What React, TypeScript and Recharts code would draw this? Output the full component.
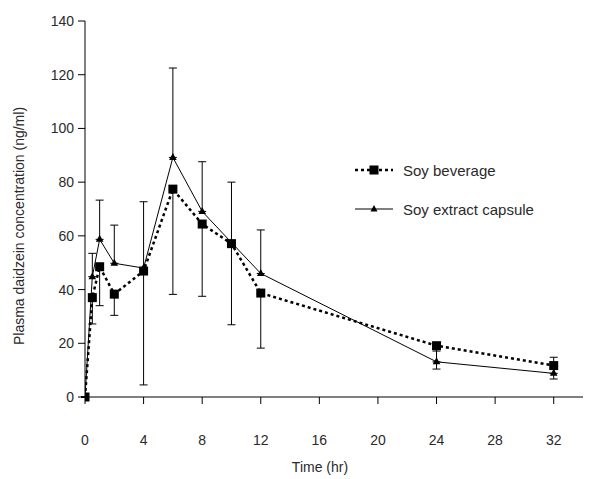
import { ComposedChart, Line, XAxis, YAxis, ErrorBar, Legend, Label } from 'recharts';

// sampling times (hr)
const times = [0, 0.5, 1, 2, 4, 6, 8, 10, 12, 24, 32];

// Soy beverage mean and lower SD
const beverage = [0, 37, 48.5, 38.3, 46.9, 77.4, 64.4, 57.1, 38.7, 19.1, 11.7];
const beverageLow = [0, 9.8, 14.5, 7.9, 42.4, 39.2, 26.9, 30.2, 20.5, 8.7, 5];

// Soy extract capsule mean and upper SD
const capsule = [0, 44.8, 58.7, 49.8, 48, 89.2, 69.1, 57.5, 46, 13.1, 8.8];
const capsuleHigh = [0, 8.7, 14.6, 14.2, 24.7, 33.3, 18.5, 22.5, 16.2, 4, 6];

const xTicks = [0, 4, 8, 12, 16, 20, 24, 28, 32];
const yTicks = [0, 20, 40, 60, 80, 100, 120, 140];

const data = times.map((t, i) => ({
  t,
  beverage: beverage[i],
  beverageErr: [beverageLow[i], 0],
  capsule: capsule[i],
  capsuleErr: [0, capsuleHigh[i]],
}));

const FONT = '"Liberation Sans", Arial, sans-serif';
const TEXT = '#2a2a2a';

const SquareDot = (props: any) => {
  const { cx, cy, index } = props;
  return <rect key={`sq-${index}`} x={cx - 4.5} y={cy - 4.5} width={9} height={9} fill="#000" />;
};

const TriangleDot = (props: any) => {
  const { cx, cy, index } = props;
  return (
    <path
      key={`tr-${index}`}
      d={`M${cx},${cy - 4.5} L${cx - 3.8},${cy + 2.5} L${cx + 3.8},${cy + 2.5} Z`}
      fill="#000"
    />
  );
};

const LegendBox = () => (
  <div style={{ fontFamily: FONT, fontSize: 15, color: TEXT }}>
    <div style={{ display: 'flex', alignItems: 'center', height: 30 }}>
      <svg width={48} height={30}>
        <line x1={5} y1={15} x2={43} y2={15} stroke="#000" strokeWidth={2.5} strokeDasharray="3 3" />
        <rect x={19.5} y={10.5} width={9} height={9} fill="#000" />
      </svg>
      <span style={{ marginLeft: 5 }}>Soy beverage</span>
    </div>
    <div style={{ display: 'flex', alignItems: 'center', height: 30, marginTop: 9 }}>
      <svg width={48} height={30}>
        <line x1={5} y1={15} x2={43} y2={15} stroke="#000" strokeWidth={1} />
        <path d="M24,11 L20.5,17.5 L27.5,17.5 Z" fill="#000" />
      </svg>
      <span style={{ marginLeft: 5 }}>Soy extract capsule</span>
    </div>
  </div>
);

export default function App() {
  return (
    <div style={{ position: 'absolute', left: 0, top: 0, background: '#fff' }}>
      <ComposedChart width={589} height={479} data={data} margin={{ top: 21, right: 6, bottom: 22, left: 0 }}>
        <XAxis
          type="number"
          dataKey="t"
          domain={[0, 34]}
          ticks={xTicks}
          allowDataOverflow
          height={60}
          tickSize={7}
          tickMargin={31}
          stroke="#000"
          tick={{ fill: TEXT, fontSize: 14, fontFamily: FONT }}
        >
          <Label
            content={() => (
              <text x={320} y={472} textAnchor="middle" fill={TEXT} fontSize={14} fontFamily={FONT}>
                Time (hr)
              </text>
            )}
          />
        </XAxis>
        <YAxis
          type="number"
          domain={[0, 140]}
          ticks={yTicks}
          width={85}
          tickSize={7}
          tickMargin={4}
          stroke="#000"
          tick={{ fill: TEXT, fontSize: 14, fontFamily: FONT }}
        >
          <Label
            content={() => (
              <text
                x={19}
                y={226}
                transform="rotate(-90 19 226)"
                textAnchor="middle"
                dominantBaseline="central"
                fill={TEXT}
                fontSize={14}
                fontFamily={FONT}
              >
                Plasma daidzein concentration (ng/ml)
              </text>
            )}
          />
        </YAxis>
        <Legend
          layout="vertical"
          align="center"
          verticalAlign="middle"
          content={() => <LegendBox />}
          wrapperStyle={{ left: 350, top: 155, width: 230 }}
        />
        <Line
          type="linear"
          dataKey="capsule"
          stroke="#000"
          strokeWidth={1}
          dot={TriangleDot}
          activeDot={false}
          isAnimationActive={false}
          legendType="none"
        >
          <ErrorBar dataKey="capsuleErr" direction="y" width={4} stroke="#000" strokeWidth={1} />
        </Line>
        <Line
          type="linear"
          dataKey="beverage"
          stroke="#000"
          strokeWidth={2.5}
          strokeDasharray="3 3"
          dot={SquareDot}
          activeDot={false}
          isAnimationActive={false}
          legendType="none"
        >
          <ErrorBar dataKey="beverageErr" direction="y" width={4} stroke="#000" strokeWidth={1} />
        </Line>
      </ComposedChart>
    </div>
  );
}
